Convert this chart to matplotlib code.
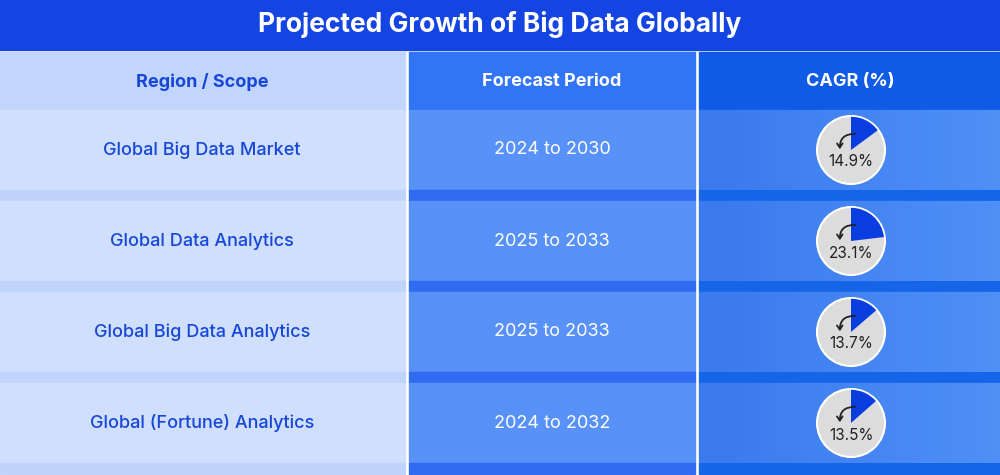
import matplotlib
matplotlib.use("Agg")
import matplotlib.pyplot as plt
from matplotlib.patches import Rectangle, Wedge, Circle, FancyArrowPatch
import numpy as np

title = "Projected Growth of Big Data Globally"
headers = ["Region / Scope", "Forecast Period", "CAGR (%)"]
regions = ["Global Big Data Market", "Global Data Analytics", "Global Big Data Analytics", "Global (Fortune) Analytics"]
periods = ["2024 to 2030", "2025 to 2033", "2025 to 2033", "2024 to 2032"]
cagr = [14.9, 23.1, 13.7, 13.5]

plt.rcParams['font.family'] = ['Inter', 'DejaVu Sans']
fig = plt.figure(figsize=(10, 4.75), dpi=100)
ax = fig.add_axes([0, 0, 1, 1])
ax.set_xlim(0, 1000); ax.set_ylim(475, 0); ax.axis('off')
fig.patch.set_facecolor('white')

# title band
ax.add_patch(Rectangle((0, 0), 1000, 50, color='#1445E2'))
ax.text(500, 24, title, ha='center', va='center', color='white', fontsize=19, fontweight='bold')

cols = [(0, 405), (409, 695), (699, 1000)]
head_c = ['#C2D5FC', '#3274F6', '#0F5BE6']
row_c = ['#D0DFFE', '#5891F8', '#3F7EEF']
stripe_c = ['#BFD3FB', '#2F6CF2', '#1565E8']
hy0, hy1 = 52, 110
for (x0, x1), hc in zip(cols, head_c):
    ax.add_patch(Rectangle((x0, hy0), x1 - x0, hy1 - hy0, color=hc))
ax.text(202, 82, headers[0], ha='center', va='center', color='#1747D8', fontsize=13, fontweight='bold')
ax.text(552, 82, headers[1], ha='center', va='center', color='white', fontsize=13, fontweight='bold')
ax.text(850, 82, headers[2], ha='center', va='center', color='white', fontsize=13, fontweight='bold')

row_h, gap = 80, 11
for i, (r, p, c) in enumerate(zip(regions, periods, cagr)):
    y0 = hy1 + i * (row_h + gap)
    for (x0, x1), rc, sc in zip(cols, row_c, stripe_c):
        ax.add_patch(Rectangle((x0, y0), x1 - x0, row_h, color=rc))
        ax.add_patch(Rectangle((x0, y0 + row_h), x1 - x0, gap, color=sc))
    # gradient in third column
    grad = np.linspace(0, 1, 100).reshape(1, -1)
    ax.imshow(grad, extent=(699, 1000, y0 + row_h, y0), cmap=matplotlib.colors.LinearSegmentedColormap.from_list('g', ['#3A79EE', '#4E90F6']), aspect='auto', zorder=1)
    yc = y0 + row_h / 2
    ax.text(202, yc, r, ha='center', va='center', color='#1747D8', fontsize=13, fontweight='medium')
    ax.text(552, yc, p, ha='center', va='center', color='white', fontsize=13)
    cx, cy, rad = 851, yc, 34
    ax.add_patch(Circle((cx, cy), rad, facecolor='#DCDCDC', edgecolor='white', lw=1.5, zorder=2))
    # y axis inverted: angles measured in data coords; going clockwise on screen = increasing angle from -90
    ax.add_patch(Wedge((cx, cy), rad - 0.8, -90, -90 + c / 100 * 360, facecolor='#0A3DE0', edgecolor='none', zorder=3))
    ax.add_patch(FancyArrowPatch((cx + 7, cy - 16), (cx - 11, cy + 2), connectionstyle='arc3,rad=0.6',
                                 arrowstyle='->,head_length=3,head_width=2', color='#222222', lw=1.3, zorder=4))
    ax.text(cx, cy + 12, f"{c}%", ha='center', va='center', color='#222222', fontsize=11, zorder=4)

fig.savefig('out.png', dpi=100)
